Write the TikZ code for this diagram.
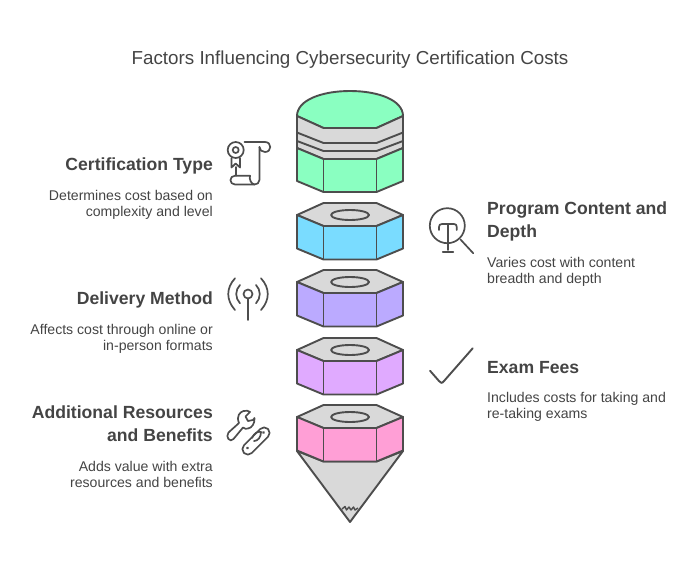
\documentclass[tikz,border=0pt]{standalone}
\usepackage{fontspec}
\setmainfont{Liberation Sans}
\definecolor{inkgray}{HTML}{4D4D4D}
\definecolor{textgray}{HTML}{444444}
\definecolor{facegray}{HTML}{D9D9D9}
\definecolor{capgreen}{HTML}{8AFFC1}
\definecolor{nutblue}{HTML}{7ADCFF}
\definecolor{nutviolet}{HTML}{BBAAFF}
\definecolor{nutlilac}{HTML}{E0AAFF}
\definecolor{nutpink}{HTML}{FF9FD6}
\begin{document}
\begin{tikzpicture}[
    x=1pt, y=-1pt,
    part/.style={draw=inkgray, line width=1.9pt, line join=round},
    icon/.style={draw=inkgray, line width=1.7pt, line join=round, line cap=round, fill=none},
    titletext/.style={text=textgray, inner sep=0pt, font=\fontsize{18.8}{24}\selectfont},
    headtext/.style={text=textgray, inner sep=0pt, font=\fontsize{17.6}{22.5}\selectfont\bfseries},
    bodytext/.style={text=textgray, inner sep=0pt, font=\fontsize{14.1}{16}\selectfont}
]
    \useasboundingbox (0,0) rectangle (700,568);

    \node[titletext] (title) at (350,59.5) {Factors Influencing Cybersecurity Certification Costs};

    % cap
    \draw[part, fill=capgreen] (297,116) .. controls (297,100) and (322,91) .. (350,91)
        .. controls (378,91) and (403,100) .. (403,116) -- (376.5,128) -- (323.5,128) -- cycle;
    \draw[part, fill=facegray] (297,116) -- (323.5,128) -- (376.5,128) -- (403,116)
        -- (403,148) -- (376.5,159) -- (323.5,159) -- (297,148) -- cycle;
    \draw[part] (297,132.5) -- (323.5,143) -- (376.5,143) -- (403,132.5);
    \draw[part] (297,141) -- (323.5,151) -- (376.5,151) -- (403,141);
    \draw[part, fill=capgreen] (297,148) -- (323.5,159) -- (376.5,159) -- (403,148)
        -- (403,181) -- (376.5,192) -- (323.5,192) -- (297,181) -- cycle;
    \draw[part] (323.5,159) -- (323.5,192);
    \draw[part] (376.5,159) -- (376.5,192);

    % tip under the last nut
    \draw[part, fill=facegray] (297,451) -- (350,522) -- (403,451) -- (376.5,461.5) -- (323.5,461.5) -- cycle;
    \draw[part, line width=1.4pt] (342,509) -- (345,506.5) -- (346.5,510) -- (349,507) -- (351,510) -- (353.5,507) -- (355,510) -- (358,508);

    % nuts
    \foreach \ytop/\nutcolor in {203/nutblue, 270/nutviolet, 338/nutlilac, 405/nutpink} {
        \draw[part, fill=facegray] (323.5,\ytop) -- (376.5,\ytop) -- (403,\ytop+12) -- (376.5,\ytop+23)
            -- (323.5,\ytop+23) -- (297,\ytop+12) -- cycle;
        \draw[part, fill=\nutcolor] (297,\ytop+12) -- (323.5,\ytop+23) -- (376.5,\ytop+23) -- (403,\ytop+12)
            -- (403,\ytop+45.5) -- (376.5,\ytop+56.5) -- (323.5,\ytop+56.5) -- (297,\ytop+45.5) -- cycle;
        \draw[part] (323.5,\ytop+23) -- (323.5,\ytop+56.5);
        \draw[part] (376.5,\ytop+23) -- (376.5,\ytop+56.5);
        \draw[part] (350,\ytop+12) ellipse (19 and 5);
    }

    % left texts
    \node[headtext, anchor=east] (certhead) at (213,166) {Certification Type};
    \node[bodytext, anchor=east, align=right] (certbody) at (213,204.5) {Determines cost based on\\complexity and level};
    \node[headtext, anchor=east] (delivhead) at (213,300) {Delivery Method};
    \node[bodytext, anchor=east, align=right] (delivbody) at (213,338.5) {Affects cost through online or\\in-person formats};
    \node[headtext, anchor=east, align=right] (addhead) at (213,423.5) {Additional Resources\\and Benefits};
    \node[bodytext, anchor=east, align=right] (addbody) at (213,474.5) {Adds value with extra\\resources and benefits};

    % right texts
    \node[headtext, anchor=west, align=left] (proghead) at (487,221.5) {Program Content and\\Depth};
    \node[bodytext, anchor=west, align=left] (progbody) at (487,271.5) {Varies cost with content\\breadth and depth};
    \node[headtext, anchor=west] (examhead) at (487,367.5) {Exam Fees};
    \node[bodytext, anchor=west, align=left] (exambody) at (487,406.5) {Includes costs for taking and\\re-taking exams};

    % scroll icon
    \draw[icon] (235.7,150) circle (8);
    \draw[icon] (235.7,150) circle (3);
    \draw[icon] (231.5,158) -- (231.5,167.5) -- (235.7,163.5) -- (240,167.5) -- (240,158);
    \draw[icon] (235.7,167) -- (235.7,175.7);
    \draw[icon] (244.5,142) -- (265,142) .. controls (272,142) and (272,152) .. (265,152) .. controls (262,152) and (259.4,150) .. (259.4,147);
    \draw[icon] (259.4,147) -- (259.4,180) .. controls (259.4,183) and (257,184.5) .. (254.5,184.5)
        -- (235,184.5) .. controls (229,184.5) and (229,175.7) .. (235,175.7) -- (250,175.7);
    \draw[icon] (250,175.7) .. controls (249,179) and (251,184) .. (254.5,184.5);

    % magnifier icon
    \draw[icon] (447.3,225.7) circle (17.5);
    \draw[icon] (460.5,239.5) -- (473.3,253.3);
    \draw[icon] (439,230) -- (439,227) .. controls (439,225) and (440,224) .. (442,224) -- (454,224)
        .. controls (456,224) and (456.7,225) .. (456.7,227) -- (456.7,230);
    \draw[icon] (447.7,224) -- (447.7,250);
    \draw[icon] (442.7,251.7) -- (453.3,251.7);

    % antenna icon
    \draw[icon] (248,294) circle (4.5);
    \draw[icon] (248,298.5) -- (248,320);
    \draw[icon] (235,278.3) .. controls (226,288) and (226,300) .. (235,310);
    \draw[icon] (240,285) .. controls (235,290) and (235,298) .. (240,303.3);
    \draw[icon] (261,278.3) .. controls (270,288) and (270,300) .. (261,310);
    \draw[icon] (256,285) .. controls (261,290) and (261,298) .. (256,303.3);

    % tools icon
    \draw[icon] (228.5,432.5) -- (239,423) .. controls (236,416) and (240,412) .. (243.5,411)
        .. controls (246,410) and (249,411) .. (250,412) -- (245.5,416.5) -- (248,421) -- (253,420)
        -- (254.5,418) .. controls (255,423) and (252,428) .. (248,428.5) .. controls (246,429) and (245,429) .. (243,427.5)
        -- (233.5,439) .. controls (230,443) and (225,437) .. (228.5,432.5);
    \draw[icon, rotate around={45:(256,441)}, rounded corners=5.5pt] (239,435.5) rectangle (273,446.5);
    \draw[icon] (252,438) .. controls (254,433) and (258,431) .. (261,432);
    \draw[icon] (254,441) .. controls (258,441) and (261,437) .. (261,432);
    \draw[icon] (247.5,448) circle (0.6);
    \draw[icon] (263.5,432.5) circle (0.6);

    % check icon
    \draw[icon, line width=1.9pt] (430,370.7) -- (439,381) .. controls (440.5,383.5) and (442,383.5) .. (444,381) -- (472.7,348.3);
\end{tikzpicture}
\end{document}
